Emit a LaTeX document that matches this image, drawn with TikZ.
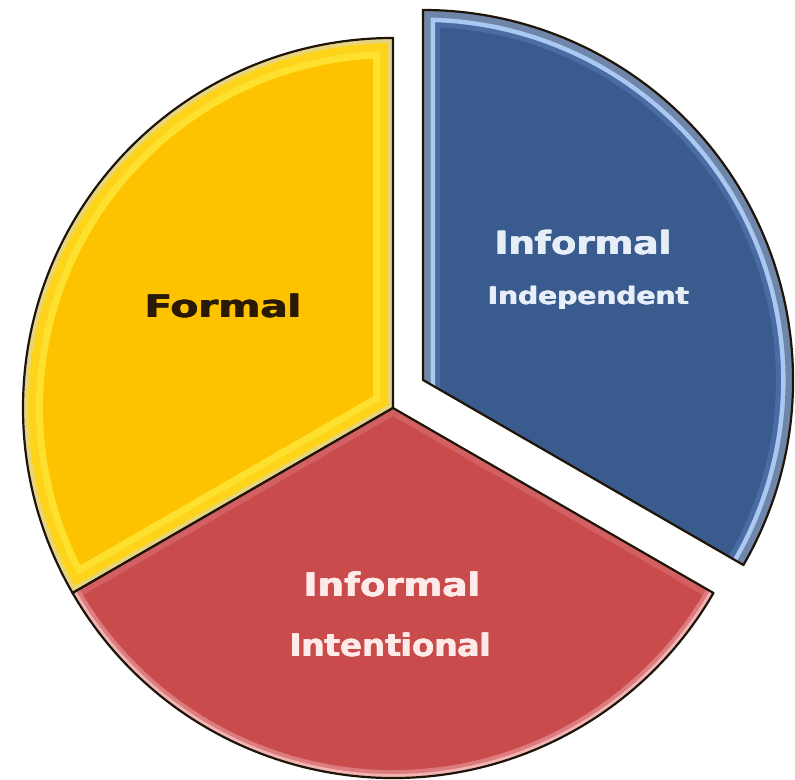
\documentclass[tikz,border=0pt]{standalone}
\usepackage{fontspec}
\usetikzlibrary{calc}
\setsansfont{DejaVu Sans}
\definecolor{ybase}{HTML}{FDC300}
\definecolor{yhi}{HTML}{FFE83A}
\definecolor{ypale}{HTML}{E6D47E}
\definecolor{rbase}{HTML}{C94B4C}
\definecolor{rhi}{HTML}{E48A8C}
\definecolor{rpale}{HTML}{F2B3B3}
\definecolor{bbase}{HTML}{3A5B8E}
\definecolor{bmid}{HTML}{4A6CA2}
\definecolor{bhi}{HTML}{A9C9F2}
\definecolor{bgrey}{HTML}{6F86AA}
\definecolor{edge}{HTML}{1E1408}
\definecolor{ftxt}{HTML}{2A1A05}
\definecolor{btxt}{HTML}{E6EEF8}
\definecolor{rtxt}{HTML}{FFEAEA}
\newcommand\heavytext[1]{\makebox[0pt][l]{\kern0.7pt#1}\makebox[0pt][l]{\raisebox{0.5pt}{\kern0.35pt#1}}#1}
\begin{document}
\begin{tikzpicture}[x=1pt,y=1pt,
  ypath/.style={insert path={(C) -- ++(90:370) arc[start angle=90,end angle=210,radius=370] -- cycle}},
  rpath/.style={insert path={(C) -- ++(210:370) arc[start angle=210,end angle=330,radius=370] -- cycle}},
  bpath/.style={insert path={(B) -- ++(330:370) arc[start angle=-30,end angle=90,radius=370] -- cycle}},
  bopen/.style={insert path={($(B)+(330:400)$) -- ($(B)+(330:370)$) arc[start angle=-30,end angle=90,radius=370] -- (B) -- ++(0,-40)}},
  rarc/.style={insert path={($(C)+(210:370)$) arc[start angle=210,end angle=330,radius=370]}},
  rim/.style={draw=edge,line width=2.2pt,line join=round},
  lbl/.style={font=\sffamily\bfseries,inner sep=0pt,anchor=base}]
\useasboundingbox (0,0) rectangle (795,779);
\fill[white] (0,0) rectangle (795,779);
\coordinate (C) at (393,371);
\coordinate (B) at (423,399);
% yellow sector
\fill[ybase,ypath];
\begin{scope}
  \clip[ypath];
  \draw[yhi,line width=40pt,line join=round,opacity=0.8,ypath];
  \draw[ybase!55!yhi,line width=26pt,line join=round,ypath];
  \draw[ypale,line width=10pt,line join=round,ypath];
\end{scope}
\draw[rim,ypath];
% red sector
\fill[rbase,rpath];
\begin{scope}
  \clip[rpath];
  \draw[rhi,line width=14pt,line join=round,opacity=0.35,rpath];
  \draw[rhi,line width=16pt,opacity=0.7,rarc];
  \draw[rpale,line width=8pt,rarc];
\end{scope}
\draw[rim,rpath];
% blue sector
\fill[bbase,bpath];
\begin{scope}
  \clip[bpath];
  \draw[bmid,line width=34pt,line join=round,bopen];
  \draw[bhi,line width=24pt,line join=round,bopen];
  \draw[bgrey,line width=15pt,line join=round,bopen];
\end{scope}
\draw[rim,bpath];
% labels
\node[lbl,text=ftxt,font=\sffamily\bfseries\fontsize{31}{31}\selectfont,xscale=1.3] (formal) at (223,461) {\heavytext{Formal}};
\node[lbl,text=btxt,font=\sffamily\bfseries\fontsize{32}{32}\selectfont,xscale=1.16] (binf) at (583,524) {\heavytext{Informal}};
\node[lbl,text=btxt,font=\sffamily\bfseries\fontsize{24}{24}\selectfont,xscale=1.17] (bind) at (588,474) {\heavytext{Independent}};
\node[lbl,text=rtxt,font=\sffamily\bfseries\fontsize{32.5}{32.5}\selectfont,xscale=1.14] (rinf) at (392,182) {\heavytext{Informal}};
\node[lbl,text=rtxt,font=\sffamily\bfseries\fontsize{31}{31}\selectfont,xscale=1.05] (rint) at (390,122) {\heavytext{Intentional}};
\end{tikzpicture}
\end{document}
